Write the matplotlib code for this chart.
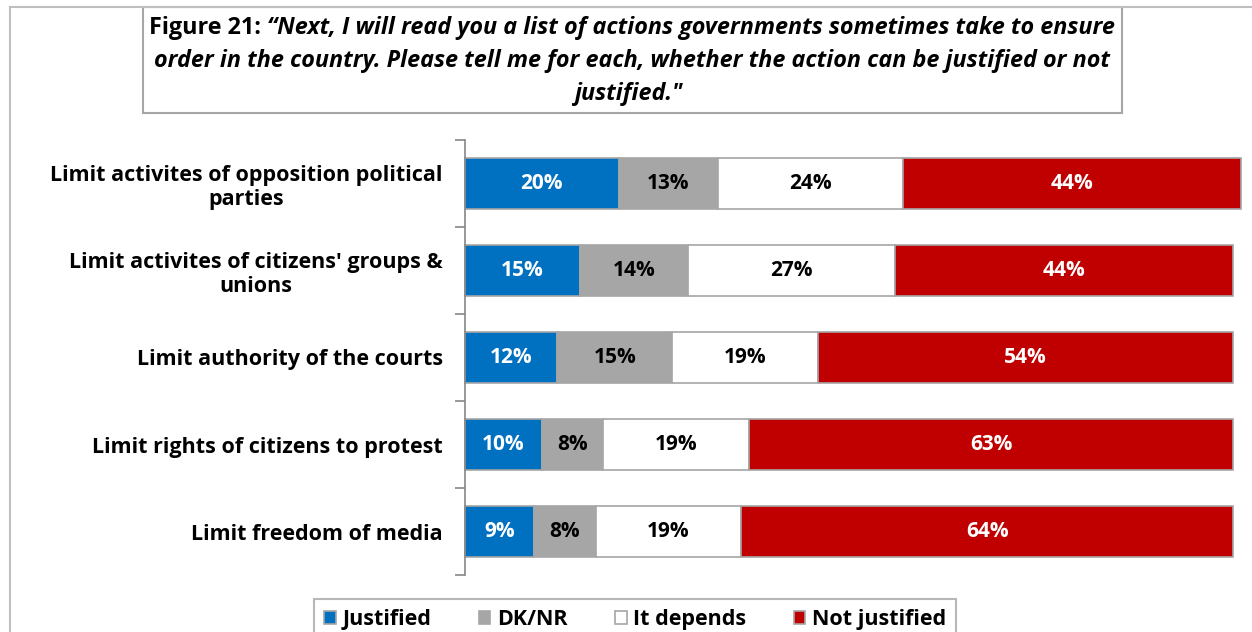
import matplotlib.pyplot as plt
import numpy as np
from matplotlib.patches import Rectangle
from matplotlib.lines import Line2D

plt.rcParams['font.family'] = ['Open Sans', 'DejaVu Sans']

categories = [
    "Limit activites of opposition political\nparties",
    "Limit activites of citizens' groups &\nunions",
    "Limit authority of the courts",
    "Limit rights of citizens to protest",
    "Limit freedom of media",
]
justified = [20, 15, 12, 10, 9]
dk_nr = [13, 14, 15, 8, 8]
depends = [24, 27, 19, 19, 19]
not_justified = [44, 44, 54, 63, 64]

series = [
    ("Justified", justified, "#0070C0", "white"),
    ("DK/NR", dk_nr, "#A6A6A6", "black"),
    ("It depends", depends, "white", "black"),
    ("Not justified", not_justified, "#C00000", "white"),
]

W, H = 1252, 632
fig = plt.figure(figsize=(W / 100, H / 100), dpi=100)

# outer chart-area border (top and left visible)
fig.add_artist(Line2D([10 / W, 1], [1 - 7 / H, 1 - 7 / H], color="#BFBFBF", lw=1.5))
fig.add_artist(Line2D([10 / W, 10 / W], [0, 1 - 7 / H], color="#BFBFBF", lw=1.5))

# title box
fig.add_artist(Rectangle((143 / W, 1 - 113 / H), (1122 - 143) / W, (113 - 7) / H,
                         transform=fig.transFigure, facecolor="white",
                         edgecolor="#A6A6A6", lw=1.5))

ax = fig.add_axes([465 / W, 1 - 575 / H, 768 / W, 435 / H])
y = np.arange(len(categories))
left = np.zeros(len(categories))
for name, vals, color, tcolor in series:
    vals = np.array(vals, dtype=float)
    bars = ax.barh(y, vals, left=left, height=0.575, color=color,
                   edgecolor="#A6A6A6", linewidth=1.2, label=name, clip_on=False)
    for b, v in zip(bars, vals):
        ax.text(b.get_x() + b.get_width() / 2, b.get_y() + b.get_height() / 2,
                f"{v:.0f}%", ha="center", va="center", color=tcolor,
                fontsize=15, fontweight="bold")
    left += vals

ax.set_xlim(0, 100)
ax.set_ylim(len(categories) - 0.5, -0.5)
ax.set_yticks(y)
ax.set_yticklabels(categories, fontsize=15.5, fontweight="bold", multialignment="center")
ax.set_yticks(np.arange(-0.5, len(categories)), minor=True)
ax.tick_params(axis="y", which="major", length=0, pad=16)
ax.tick_params(axis="y", which="minor", length=7, color="#868686", width=1.2)
ax.set_xticks([])
for s in ["top", "right", "bottom"]:
    ax.spines[s].set_visible(False)
ax.spines["left"].set_color("#868686")
ax.spines["left"].set_linewidth(1.2)

# title: bold "Figure 21:" followed by bold italic quote
tfs = 16.8
line1_a = fig.text(0, 0, "Figure 21: ", fontsize=tfs, fontweight="bold", va="center")
line1_b = fig.text(0, 0, "\u201cNext, I will read you a list of actions governments sometimes take to ensure",
                   fontsize=tfs, fontweight="bold", style="italic", va="center")
fig.text(632 / W, 1 - 61 / H,
         "order in the country. Please tell me for each, whether the action can be justified or not",
         fontsize=tfs, fontweight="bold", style="italic", ha="center", va="center")
fig.text(628 / W, 1 - 94 / H, "justified.\"",
         fontsize=tfs, fontweight="bold", style="italic", ha="center", va="center")
fig.canvas.draw()
r = fig.canvas.get_renderer()
wa = line1_a.get_window_extent(r).width
wb = line1_b.get_window_extent(r).width
x0 = 632 - (wa + wb) / 2
line1_a.set_position((x0 / W, 1 - 28 / H))
line1_b.set_position(((x0 + wa) / W, 1 - 28 / H))

leg = fig.legend(loc="upper center", bbox_to_anchor=(635 / W, 1 - 599 / H), ncol=4,
                 frameon=True, fancybox=False, edgecolor="#A6A6A6",
                 prop={"size": 15.5, "weight": "bold"}, handlelength=0.55, handleheight=0.55,
                 handletextpad=0.3, columnspacing=2.2, borderpad=0.45, borderaxespad=0)
leg.get_frame().set_linewidth(1.5)

fig.savefig("out.png", dpi=100)
